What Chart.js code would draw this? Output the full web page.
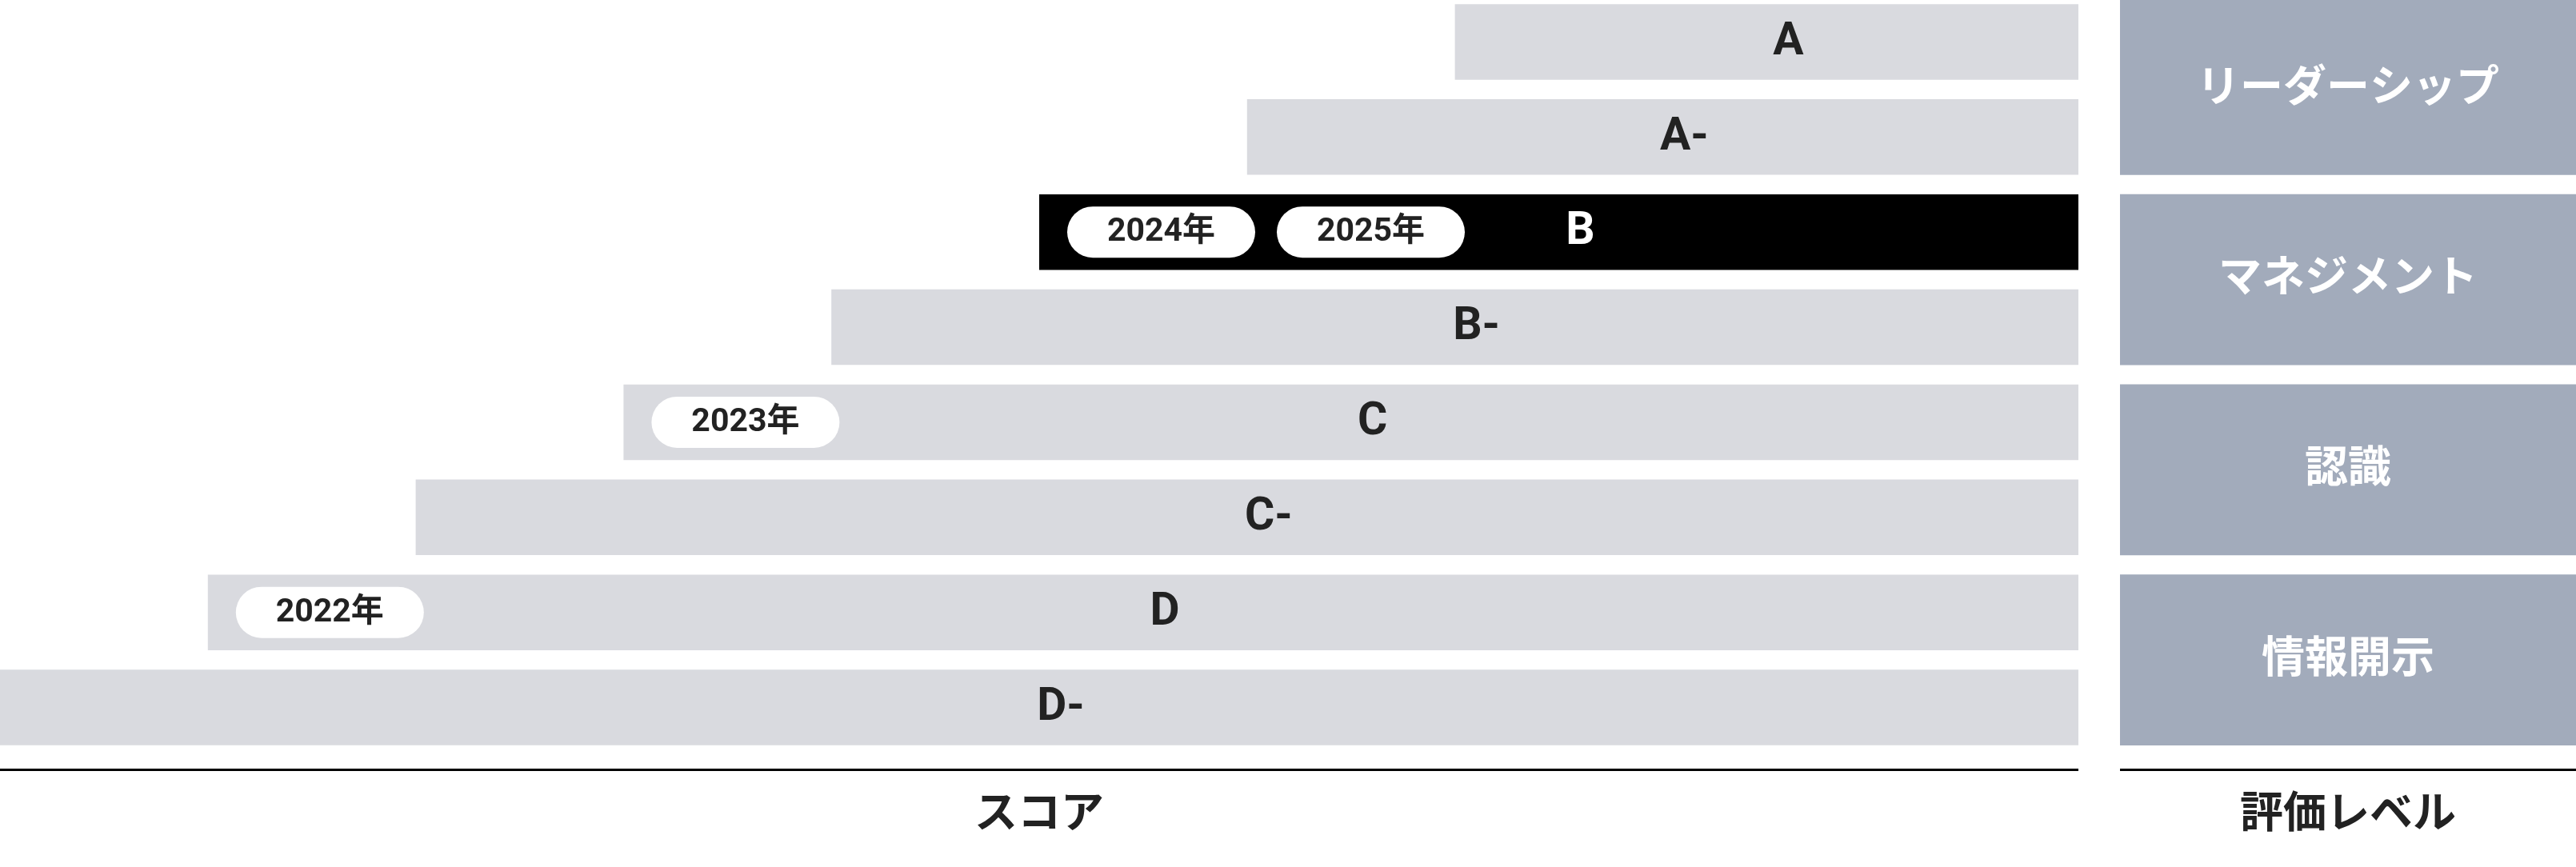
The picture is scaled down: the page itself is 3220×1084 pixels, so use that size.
<!DOCTYPE html>
<html lang="ja">
<head>
<meta charset="utf-8">
<script src="https://cdn.jsdelivr.net/npm/chart.js@4.4.1/dist/chart.umd.min.js"></script>
<style>
  html, body { margin: 0; padding: 0; background: #ffffff; overflow: hidden; }
  body { width: 3220px; height: 1084px; position: relative; }
  #left { position: absolute; left: 0; top: -7px; }
  #right { position: absolute; left: 2650px; top: -7px; }
</style>
</head>
<body>
<canvas id="left" width="2598" height="1091"></canvas>
<canvas id="right" width="570" height="1091"></canvas>
<script>
// ---- data ----
const grades = ['A', 'A-', 'B', 'B-', 'C', 'C-', 'D', 'D-'];
const gradeStart = [7, 6, 5, 4, 3, 2, 1, 0];
const gradeEnd = [10, 10, 10, 10, 10, 10, 10, 10];
const currentGrade = 'B';
const yearLabels = ['2022年', '2023年', '2024年', '2025年'];
const yearGrades = ['D', 'C', 'B', 'B'];
const levelNames = ['リーダーシップ', 'マネジメント', '認識', '情報開示'];
const levelFirstGrade = ['A', 'B', 'C', 'D'];
const levelLastGrade = ['A-', 'B-', 'C-', 'D-'];
const scoreTitle = 'スコア';
const levelTitle = '評価レベル';

// ---- style ----
const GRAY = '#d9dadf';
const BLACK = '#000000';
const PANEL = '#a2abbb';
const TEXT = '#222222';
const FONT = "Roboto, 'Noto Sans CJK JP', sans-serif";
const CJK = "'Noto Sans CJK JP', sans-serif";
const BAR_FRAC = 0.794;

Chart.defaults.font.family = FONT;

function drawAxisLine(chart, title) {
  const ctx = chart.ctx;
  const a = chart.chartArea;
  ctx.save();
  ctx.fillStyle = '#000';
  ctx.fillRect(0, a.bottom + 17, chart.width, 3);
  ctx.fillStyle = TEXT;
  ctx.font = "bold 54px " + CJK;
  ctx.textAlign = 'center';
  ctx.textBaseline = 'middle';
  ctx.fillText(title, chart.width / 2, a.bottom + 70);
  ctx.restore();
}

function roundRect(ctx, x, y, w, h, r) {
  ctx.beginPath();
  ctx.moveTo(x + r, y);
  ctx.lineTo(x + w - r, y);
  ctx.arc(x + w - r, y + r, r, -Math.PI / 2, Math.PI / 2);
  ctx.lineTo(x + r, y + h);
  ctx.arc(x + r, y + r, r, Math.PI / 2, Math.PI * 1.5);
  ctx.closePath();
}

const leftPlugin = {
  id: 'leftDecor',
  afterDatasetsDraw(chart) {
    const ctx = chart.ctx;
    const meta = chart.getDatasetMeta(0);
    const xs = chart.scales.x;
    // grade labels
    meta.data.forEach((el, i) => {
      const cx = (el.x + el.base) / 2 + 27;
      ctx.save();
      ctx.fillStyle = grades[i] === currentGrade ? '#ffffff' : TEXT;
      ctx.font = "bold 57px " + FONT;
      ctx.textAlign = 'center';
      ctx.textBaseline = 'middle';
      ctx.fillText(grades[i], cx, el.y + 1);
      ctx.restore();
    });
    // year pills
    const used = {};
    yearLabels.forEach((lab, k) => {
      const gi = grades.indexOf(yearGrades[k]);
      const el = meta.data[gi];
      const n = used[gi] || 0;
      used[gi] = n + 1;
      const w = 235, h = 64;
      const x = xs.getPixelForValue(gradeStart[gi]) + 35 + n * (w + 27);
      const y = el.y - h / 2;
      ctx.save();
      ctx.fillStyle = '#ffffff';
      roundRect(ctx, x, y, w, h, h / 2);
      ctx.fill();
      ctx.fillStyle = TEXT;
      ctx.font = "bold 41px " + FONT;
      ctx.textAlign = 'center';
      ctx.textBaseline = 'middle';
      ctx.fillText(lab, x + w / 2, el.y + 1);
      ctx.restore();
    });
  },
  afterDraw(chart) { drawAxisLine(chart, scoreTitle); }
};

new Chart(document.getElementById('left'), {
  type: 'bar',
  data: {
    labels: grades,
    datasets: [{
      data: grades.map((g, i) => [gradeStart[i], gradeEnd[i]]),
      backgroundColor: grades.map(g => g === currentGrade ? BLACK : GRAY),
      borderWidth: 0,
      borderSkipped: false,
      categoryPercentage: 1,
      barPercentage: BAR_FRAC
    }]
  },
  options: {
    indexAxis: 'y',
    responsive: false,
    animation: false,
    devicePixelRatio: 1,
    layout: { padding: { left: 0, right: 0, top: 0, bottom: 140 } },
    plugins: { legend: { display: false }, tooltip: { enabled: false } },
    scales: {
      x: { type: 'linear', min: 0, max: 10, display: false },
      y: { type: 'category', display: false }
    }
  },
  plugins: [leftPlugin]
});

// right: evaluation level bands spanning two grade rows each
const half = BAR_FRAC / 2;
const levelTop = levelFirstGrade.map((g, i) => i === 0 ? -0.5 : grades.indexOf(g) - half);
const levelBottom = levelLastGrade.map(g => grades.indexOf(g) + half);

const rightPlugin = {
  id: 'rightDecor',
  afterDatasetsDraw(chart) {
    const ctx = chart.ctx;
    const ys = chart.scales.y;
    chart.data.datasets.forEach((ds, i) => {
      const el = chart.getDatasetMeta(i).data[0];
      const mid = (grades.indexOf(levelFirstGrade[i]) + grades.indexOf(levelLastGrade[i])) / 2;
      ctx.save();
      ctx.fillStyle = '#ffffff';
      ctx.font = "bold 54px " + CJK;
      ctx.textAlign = 'center';
      ctx.textBaseline = 'middle';
      ctx.fillText(levelNames[i], el.x, ys.getPixelForValue(mid) - 5);
      ctx.restore();
    });
  },
  afterDraw(chart) { drawAxisLine(chart, levelTitle); }
};

new Chart(document.getElementById('right'), {
  type: 'bar',
  data: {
    labels: [levelTitle],
    datasets: levelNames.map((n, i) => ({
      label: n,
      data: [[levelTop[i], levelBottom[i]]],
      backgroundColor: PANEL,
      borderWidth: 0,
      borderSkipped: false,
      grouped: false,
      categoryPercentage: 1,
      barPercentage: 1
    }))
  },
  options: {
    responsive: false,
    animation: false,
    devicePixelRatio: 1,
    layout: { padding: { left: 0, right: 0, top: 0, bottom: 140 } },
    plugins: { legend: { display: false }, tooltip: { enabled: false } },
    scales: {
      x: { type: 'category', display: false },
      y: { type: 'linear', min: -0.5, max: 7.5, reverse: true, display: false }
    }
  },
  plugins: [rightPlugin]
});
</script>
</body>
</html>
